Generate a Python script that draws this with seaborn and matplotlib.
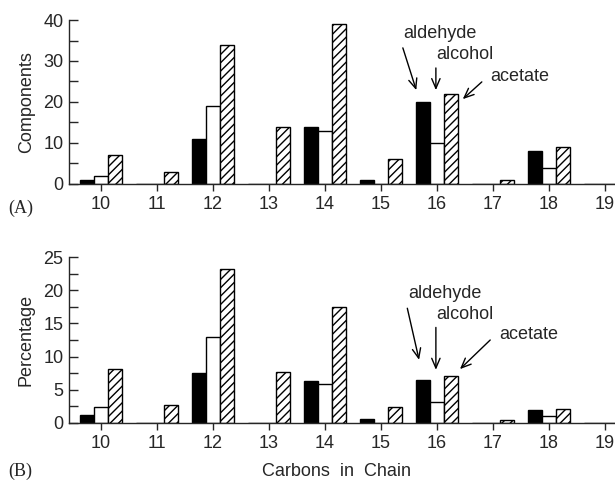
# bar charts of chain length for aldehyde / alcohol / acetate components

import numpy as np
import pandas as pd
import seaborn as sns
import matplotlib.pyplot as plt
from matplotlib.ticker import MultipleLocator

# data
carbons = [10, 11, 12, 13, 14, 15, 16, 17, 18, 19]
compounds = ['aldehyde', 'alcohol', 'acetate']

components_aldehyde = [1, 0, 11, 0, 14, 1, 20, 0, 8, 0]
components_alcohol = [2, 0, 19, 0, 13, 0, 10, 0, 4, 0]
components_acetate = [7, 3, 34, 14, 39, 6, 22, 1, 9, 0]

percent_aldehyde = [1.2, 0, 7.5, 0, 6.3, 0.5, 6.4, 0, 1.9, 0]
percent_alcohol = [2.3, 0, 13, 0, 5.8, 0, 3.2, 0, 1.0, 0]
percent_acetate = [8.1, 2.7, 23.2, 7.7, 17.5, 2.3, 7.1, 0.4, 2.1, 0]


def long_table(ald, alc, ace):
    rows = []
    for name, vals in zip(compounds, [ald, alc, ace]):
        for c, v in zip(carbons, vals):
            rows.append({'carbons': c, 'compound': name, 'value': v})
    return pd.DataFrame(rows)


comp_df = long_table(components_aldehyde, components_alcohol, components_acetate)
pct_df = long_table(percent_aldehyde, percent_alcohol, percent_acetate)

sns.set_style('ticks')
plt.rcParams['font.family'] = ['Liberation Sans', 'DejaVu Sans']
plt.rcParams['hatch.linewidth'] = 1.0

fig = plt.figure(figsize=(6.15, 4.82), dpi=100)
ax1 = fig.add_axes([0.1122, 0.6183, 0.888, 0.3402])
ax2 = fig.add_axes([0.1122, 0.1230, 0.888, 0.3432])


def draw(ax, df, ymax, minor):
    sns.barplot(data=df, x='carbons', y='value', hue='compound',
                hue_order=compounds, native_scale=True, width=0.75,
                palette=['black', 'white', 'white'], edgecolor='black',
                linewidth=1, errorbar=None, legend=False, ax=ax)
    for bar in ax.containers[2]:
        bar.set_hatch('////')
    ax.set_xlim(9.43, 19.18)
    ax.set_ylim(0, ymax)
    ax.set_xticks(carbons)
    ax.set_xticklabels([str(c) for c in carbons])
    ax.yaxis.set_minor_locator(MultipleLocator(minor))
    ax.tick_params(axis='x', direction='out', length=5, width=1, pad=4, labelsize=13)
    ax.tick_params(axis='y', which='both', direction='in', length=6.5, width=1,
                   pad=4, labelsize=13)
    for s in ['top', 'right']:
        ax.spines[s].set_visible(False)
    for s in ['left', 'bottom']:
        ax.spines[s].set_linewidth(1)
    ax.set_xlabel('')


draw(ax1, comp_df, 40, 5)
draw(ax2, pct_df, 25, 2.5)
ax1.set_yticks([0, 10, 20, 30, 40])
ax2.set_yticks([0, 5, 10, 15, 20, 25])
ax1.set_ylabel('Components', fontsize=13, labelpad=6)
ax2.set_ylabel('Percentage', fontsize=13, labelpad=6)

arrow = dict(arrowstyle='->, head_length=0.7, head_width=0.3', color='black',
             lw=1, shrinkA=0, shrinkB=0)

# panel A labels
ax1.text(16.05, 36.8, 'aldehyde', fontsize=13, ha='center', va='center')
ax1.annotate('', xy=(15.63, 22.9), xytext=(15.39, 33.2), arrowprops=arrow)
ax1.text(16.5, 31.5, 'alcohol', fontsize=13, ha='center', va='center')
ax1.annotate('', xy=(15.98, 22.9), xytext=(15.98, 28.3), arrowprops=arrow)
ax1.text(17.48, 26.1, 'acetate', fontsize=13, ha='center', va='center')
ax1.annotate('', xy=(16.46, 20.7), xytext=(16.80, 24.9), arrowprops=arrow)

# panel B labels
ax2.text(16.14, 19.5, 'aldehyde', fontsize=13, ha='center', va='center')
ax2.annotate('', xy=(15.68, 9.5), xytext=(15.47, 17.3), arrowprops=arrow)
ax2.text(16.5, 16.4, 'alcohol', fontsize=13, ha='center', va='center')
ax2.annotate('', xy=(15.98, 8.0), xytext=(15.98, 14.4), arrowprops=arrow)
ax2.text(17.63, 13.35, 'acetate', fontsize=13, ha='center', va='center')
ax2.annotate('', xy=(16.41, 8.1), xytext=(16.95, 12.5), arrowprops=arrow)

fig.text(8 / 615, 1 - 208 / 482, '(A)', fontsize=13, family='Liberation Serif',
         ha='left', va='center')
fig.text(8 / 615, 1 - 471 / 482, '(B)', fontsize=13, family='Liberation Serif',
         ha='left', va='center')
fig.text(337 / 615, 1 - 472 / 482, 'Carbons  in  Chain', fontsize=13,
         ha='center', va='center')

fig.savefig('out.png', dpi=100)
